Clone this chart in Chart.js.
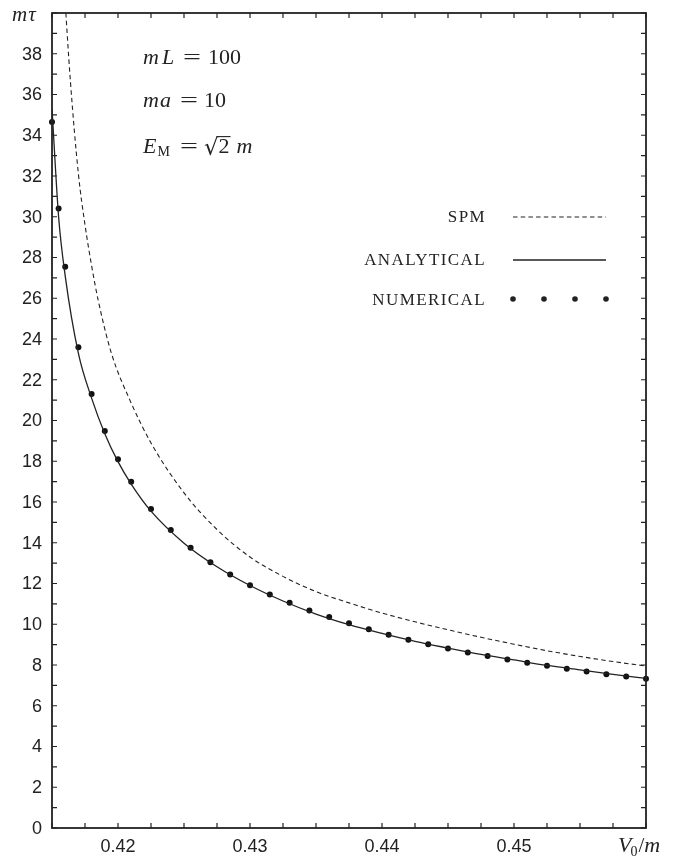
<!DOCTYPE html>
<html>
<head>
<meta charset="utf-8">
<script src="https://cdn.jsdelivr.net/npm/chart.js@4"></script>
<style>
  body { margin: 0; background: #fff; }
  #wrap { width: 684px; height: 859px; }
</style>
</head>
<body>
<div id="wrap"><canvas id="myChart"></canvas></div>
<script>
// numerical points (dots)
const numX = [0.415, 0.4155, 0.416, 0.417, 0.418, 0.419, 0.420, 0.421, 0.4225, 0.424, 0.4255, 0.427, 0.4285, 0.430, 0.4315, 0.433, 0.4345, 0.436, 0.4375, 0.439, 0.4405, 0.442, 0.4435, 0.445, 0.4465, 0.448, 0.4495, 0.451, 0.4525, 0.454, 0.4555, 0.457, 0.4585, 0.460];
const numY = [34.65, 30.4, 27.55, 23.6, 21.3, 19.48, 18.1, 17.0, 15.66, 14.63, 13.76, 13.04, 12.44, 11.92, 11.46, 11.05, 10.68, 10.35, 10.05, 9.76, 9.48, 9.24, 9.02, 8.81, 8.61, 8.44, 8.27, 8.11, 7.96, 7.81, 7.68, 7.55, 7.44, 7.32];

// analytical curve
const anaX = [0.415, 0.4155, 0.416, 0.417, 0.418, 0.419, 0.420, 0.421, 0.4225, 0.425, 0.4275, 0.430, 0.4325, 0.435, 0.4375, 0.440, 0.4425, 0.445, 0.4475, 0.450, 0.4525, 0.455, 0.4575, 0.460];
const anaY = [35.3, 30.0, 27.1, 23.3, 21.1, 19.35, 17.98, 16.88, 15.55, 13.98, 12.82, 11.9, 11.14, 10.5, 9.98, 9.55, 9.16, 8.83, 8.52, 8.25, 7.98, 7.76, 7.54, 7.34];

// SPM curve
const spmX = [0.4159, 0.4164, 0.417, 0.4175, 0.418, 0.4185, 0.4195, 0.4209, 0.4225, 0.425, 0.4275, 0.430, 0.4325, 0.435, 0.4375, 0.440, 0.4425, 0.445, 0.4475, 0.450, 0.4525, 0.455, 0.4575, 0.460];
const spmY = [41.5, 36.6, 32.1, 29.6, 27.6, 25.9, 23.3, 21.0, 18.9, 16.45, 14.65, 13.3, 12.35, 11.6, 11.05, 10.55, 10.12, 9.73, 9.36, 9.02, 8.7, 8.42, 8.17, 7.95];

const xTickLabels = [0.42, 0.43, 0.44, 0.45];
const yTickLabels = [0, 2, 4, 6, 8, 10, 12, 14, 16, 18, 20, 22, 24, 26, 28, 30, 32, 34, 36, 38];
const legendNames = ['SPM', 'ANALYTICAL', 'NUMERICAL'];

function pts(xs, ys) {
    var out = [];
    for (var i = 0; i < xs.length; i++) out.push({x: xs[i], y: ys[i]});
    return out;
}

const INK = '#222';
const IT = 'italic 22px "Liberation Serif", serif';
const UP = '22px "Liberation Serif", serif';

// draw a sequence of [text, font, gapAfter, dy, scaleX] starting at x
function seq(ctx, x, y, parts) {
    parts.forEach(function (p) {
        var sx = p[4] || 1;
        ctx.font = p[1];
        ctx.save();
        ctx.translate(x, y + (p[3] || 0));
        ctx.scale(sx, 1);
        ctx.fillText(p[0], 0, 0);
        ctx.restore();
        x += ctx.measureText(p[0]).width * sx + (p[2] || 0);
    });
    return x;
}

const decor = {
    id: 'decor',
    afterDatasetsDraw(chart) {
        const ctx = chart.ctx;
        const a = chart.chartArea;
        const xs = chart.scales.x, ys = chart.scales.y;
        ctx.save();
        ctx.strokeStyle = INK;
        ctx.fillStyle = INK;

        // frame
        ctx.lineWidth = 1.8;
        ctx.strokeRect(a.left, a.top, a.right - a.left, a.bottom - a.top);

        // inward ticks
        ctx.lineWidth = 1.2;
        ctx.beginPath();
        for (var v = 0.415; v <= 0.4601; v += 0.0025) {
            var px = xs.getPixelForValue(v);
            ctx.moveTo(px, a.bottom); ctx.lineTo(px, a.bottom - 5);
            ctx.moveTo(px, a.top); ctx.lineTo(px, a.top + 5);
        }
        for (var t = 0; t <= 40; t++) {
            var py = ys.getPixelForValue(t);
            ctx.moveTo(a.left, py); ctx.lineTo(a.left + 5, py);
            ctx.moveTo(a.right, py); ctx.lineTo(a.right - 5, py);
        }
        ctx.stroke();

        // tick labels
        ctx.font = '18px "Liberation Sans", Arial, sans-serif';
        ctx.textAlign = 'center';
        ctx.textBaseline = 'middle';
        xTickLabels.forEach(function (v) {
            ctx.fillText(v.toFixed(2), xs.getPixelForValue(v), a.bottom + 19);
        });
        ctx.textAlign = 'right';
        yTickLabels.forEach(function (v) {
            ctx.fillText(String(v), a.left - 10, ys.getPixelForValue(v) + 1);
        });

        // axis titles
        ctx.textAlign = 'left';
        ctx.textBaseline = 'alphabetic';
        seq(ctx, 12, 21, [['m', 'italic 21px "Liberation Serif", serif', 1], ['\u03C4', 'italic 21px "Liberation Serif", serif']]);
        seq(ctx, 618, 852, [['V', 'italic 22px "Liberation Serif", serif', -1],
                            ['0', '14px "Liberation Serif", serif', 1, 4],
                            ['/', '21px "Liberation Serif", serif', 0],
                            ['m', 'italic 22px "Liberation Serif", serif']]);

        // annotations
        seq(ctx, 143, 64, [['m', IT, 3], ['L', IT, 9], ['=', UP, 7, 0, 1.45], ['100', UP]]);
        seq(ctx, 143, 107, [['m', IT, 1], ['a', IT, 9], ['=', UP, 6, 0, 1.45], ['10', UP]]);
        var xe = seq(ctx, 143, 153, [['E', IT, 1], ['M', '14px "Liberation Serif", serif', 10, 3], ['=', UP, 6, 0, 1.45]]);
        ctx.font = '23px "DejaVu Serif", serif';
        var rm = ctx.measureText('\u221A');
        ctx.fillText('\u221A', xe, 155);
        var top = 155 - rm.actualBoundingBoxAscent + 0.6;
        var x2 = xe + rm.width - 1;
        ctx.font = UP;
        ctx.fillText('2', x2 + 1, 153);
        var w2 = ctx.measureText('2').width;
        ctx.lineWidth = 1.1;
        ctx.beginPath(); ctx.moveTo(x2 - 1, top); ctx.lineTo(x2 + w2 + 2, top); ctx.stroke();
        ctx.font = IT; ctx.fillText('m', x2 + w2 + 8, 153);

        // legend
        ctx.font = '17px "Liberation Serif", serif';
        ctx.textAlign = 'right';
        ctx.textBaseline = 'middle';
        if ('letterSpacing' in ctx) ctx.letterSpacing = '1.4px';
        var ly = [218, 261, 301];
        legendNames.forEach(function (n, i) { ctx.fillText(n, 486, ly[i]); });
        if ('letterSpacing' in ctx) ctx.letterSpacing = '0px';
        ctx.lineWidth = 1.1;
        ctx.setLineDash([4.5, 3.2]);
        ctx.beginPath(); ctx.moveTo(513, ly[0] - 1); ctx.lineTo(606, ly[0] - 1); ctx.stroke();
        ctx.setLineDash([]);
        ctx.lineWidth = 1.3;
        ctx.beginPath(); ctx.moveTo(513, ly[1] - 1); ctx.lineTo(606, ly[1] - 1); ctx.stroke();
        [513, 544, 575, 606].forEach(function (px) {
            ctx.beginPath(); ctx.arc(px, ly[2] - 2, 2.8, 0, Math.PI * 2); ctx.fill();
        });
        ctx.restore();
    }
};

const config = {
    type: 'line',
    data: {
        datasets: [
            {
                label: legendNames[0],
                data: pts(spmX, spmY),
                borderColor: INK,
                borderWidth: 1.1,
                borderDash: [4.5, 3.2],
                pointRadius: 0,
                cubicInterpolationMode: 'monotone',
                fill: false
            },
            {
                label: legendNames[1],
                data: pts(anaX, anaY),
                borderColor: INK,
                borderWidth: 1.3,
                pointRadius: 0,
                cubicInterpolationMode: 'monotone',
                fill: false
            },
            {
                label: legendNames[2],
                data: pts(numX, numY),
                showLine: false,
                pointRadius: 3,
                pointBackgroundColor: '#111',
                pointBorderWidth: 0,
                clip: false
            }
        ]
    },
    options: {
        responsive: true,
        maintainAspectRatio: false,
        animation: false,
        layout: { padding: { left: 52, right: 38, top: 13, bottom: 31 } },
        plugins: { legend: { display: false }, tooltip: { enabled: false } },
        scales: {
            x: { type: 'linear', min: 0.415, max: 0.46, display: false },
            y: { type: 'linear', min: 0, max: 40, display: false }
        }
    },
    plugins: [decor]
};

var myChart = new Chart(document.getElementById('myChart'), config);
</script>
</body>
</html>
